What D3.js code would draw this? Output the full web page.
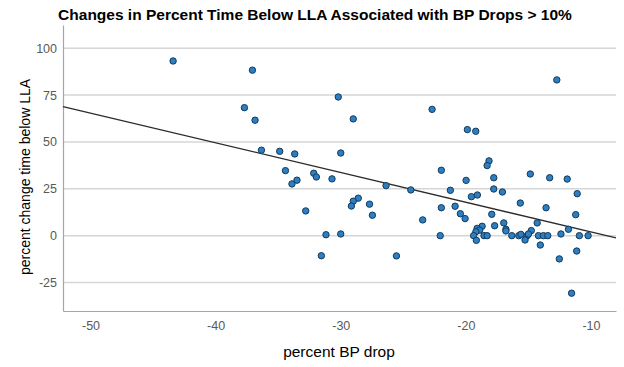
<!DOCTYPE html>
<html>
<head>
<meta charset="utf-8">
<script src="https://cdn.jsdelivr.net/npm/d3@7"></script>
<style>
  body { margin: 0; background: #fff; }
  svg { display: block; font-family: "Liberation Sans", Arial, sans-serif; }
</style>
</head>
<body>
<div id="chart"></div>
<script>
// percent BP drop (x) and percent change in time below LLA (y)
const bpDrop = [
  -43.4, -37.06, -30.2, -37.7, -36.85, -36.34, -34.88, -33.68, -30.0, -34.42,
  -32.16, -31.95, -33.5, -33.9, -30.7, -32.8, -28.6, -29.0, -29.15, -27.7,
  -27.47, -31.18, -30.0, -31.55, -29.0, -12.73, -22.7, -19.88, -19.21, -18.15,
  -18.3, -21.96, -14.85, -13.3, -11.9, -17.77, -19.98, -26.38, -24.4, -21.24,
  -17.77, -17.08, -19.08, -19.56, -11.1, -15.65, -21.96, -20.86, -13.59, -20.44,
  -17.93, -11.22, -20.06, -23.45, -16.97, -14.3, -17.7, -18.7, -19.1, -16.8,
  -16.8, -18.9, -19.2, -14.77, -11.8, -22.05, -19.38, -18.55, -18.3, -16.33,
  -15.77, -15.6, -15.1, -15.0, -14.2, -13.8, -13.45, -12.4, -10.93, -10.23,
  -19.16, -15.27, -14.05, -25.55, -11.14, -12.53, -11.55
];
const timeBelowChange = [
  93.2, 88.3, 74.0, 68.3, 61.6, 45.6, 45.0, 43.6, 44.1, 34.7,
  33.3, 31.3, 29.6, 27.6, 30.3, 13.2, 20.0, 18.4, 15.8, 16.8,
  10.9, 0.5, 0.9, -10.7, 62.3, 83.1, 67.4, 56.6, 55.7, 39.9,
  37.4, 34.9, 32.9, 30.9, 30.2, 30.9, 29.5, 26.7, 24.4, 24.2,
  24.9, 23.3, 21.7, 20.8, 22.4, 17.4, 14.9, 15.7, 14.9, 11.7,
  11.4, 11.2, 9.1, 8.4, 6.8, 6.8, 5.3, 5.0, 3.9, 3.4,
  2.5, 2.9, 2.1, 2.7, 3.4, 0, 0, 0, 0, 0,
  0, 0.7, 0, 0.9, 0, 0, 0, 0.9, 0, 0,
  -2.5, -2.3, -5.0, -10.8, -8.2, -12.4, -30.7
];
const xTicks = [-50, -40, -30, -20, -10];
const yTicks = [-25, 0, 25, 50, 75, 100];
// fit line as drawn in the chart: y = fitIntercept + fitSlope * x
const fitIntercept = -13.9;
const fitSlope = -1.586;

const width = 624, height = 367;
const margin = { top: 25, right: 8, bottom: 56, left: 63 };

const points = bpDrop.map((x, i) => ({ x, y: timeBelowChange[i] }));

const svg = d3.select('#chart')
  .append('svg')
  .attr('width', width)
  .attr('height', height);

const x = d3.scaleLinear()
  .domain([-52.2, -8.0])
  .range([margin.left, width - margin.right]);

const y = d3.scaleLinear()
  .domain([-40.2, 112.4])
  .range([height - margin.bottom, margin.top]);

// gridlines
svg.append('g')
  .selectAll('line')
  .data(yTicks)
  .join('line')
  .attr('x1', margin.left)
  .attr('x2', width - margin.right)
  .attr('y1', d => y(d))
  .attr('y2', d => y(d))
  .attr('stroke', '#d6d6d6')
  .attr('stroke-width', 1.5);

// axes
const xAxis = svg.append('g')
  .attr('transform', `translate(0,${height - margin.bottom})`)
  .call(d3.axisBottom(x).tickValues(xTicks).tickFormat(d => String(d)).tickSize(0).tickPadding(10));

const yAxis = svg.append('g')
  .attr('transform', `translate(${margin.left},0)`)
  .call(d3.axisLeft(y).tickValues(yTicks).tickFormat(d => String(d)).tickSize(0).tickPadding(6));

[xAxis, yAxis].forEach(g => {
  g.select('.domain').attr('stroke', '#a6a6a6').attr('stroke-width', 1.2);
  g.selectAll('text')
    .attr('fill', '#595959')
    .style('font-size', '12.5px')
    .style('font-family', '"Liberation Sans", Arial, sans-serif');
});

// fit line
const xEnds = x.domain();
svg.append('line')
  .attr('x1', x(xEnds[0]))
  .attr('x2', x(xEnds[1]))
  .attr('y1', y(fitIntercept + fitSlope * xEnds[0]))
  .attr('y2', y(fitIntercept + fitSlope * xEnds[1]))
  .attr('stroke', '#2b2b2b')
  .attr('stroke-width', 1.3);

// points
svg.append('g')
  .selectAll('circle')
  .data(points)
  .join('circle')
  .attr('cx', d => x(d.x))
  .attr('cy', d => y(d.y))
  .attr('r', 3.2)
  .attr('fill', '#2e7fc2')
  .attr('stroke', '#123a5c')
  .attr('stroke-width', 1);

// title and axis labels
svg.append('text')
  .attr('x', 315)
  .attr('y', 20)
  .attr('text-anchor', 'middle')
  .style('font-size', '15.5px')
  .style('font-weight', 'bold')
  .text('Changes in Percent Time Below LLA Associated with BP Drops > 10%');

svg.append('text')
  .attr('x', 339)
  .attr('y', 357)
  .attr('text-anchor', 'middle')
  .style('font-size', '15.5px')
  .text('percent BP drop');

svg.append('text')
  .attr('transform', 'translate(30,177) rotate(-90)')
  .attr('text-anchor', 'middle')
  .style('font-size', '14px')
  .text('percent change time below LLA');
</script>
</body>
</html>
